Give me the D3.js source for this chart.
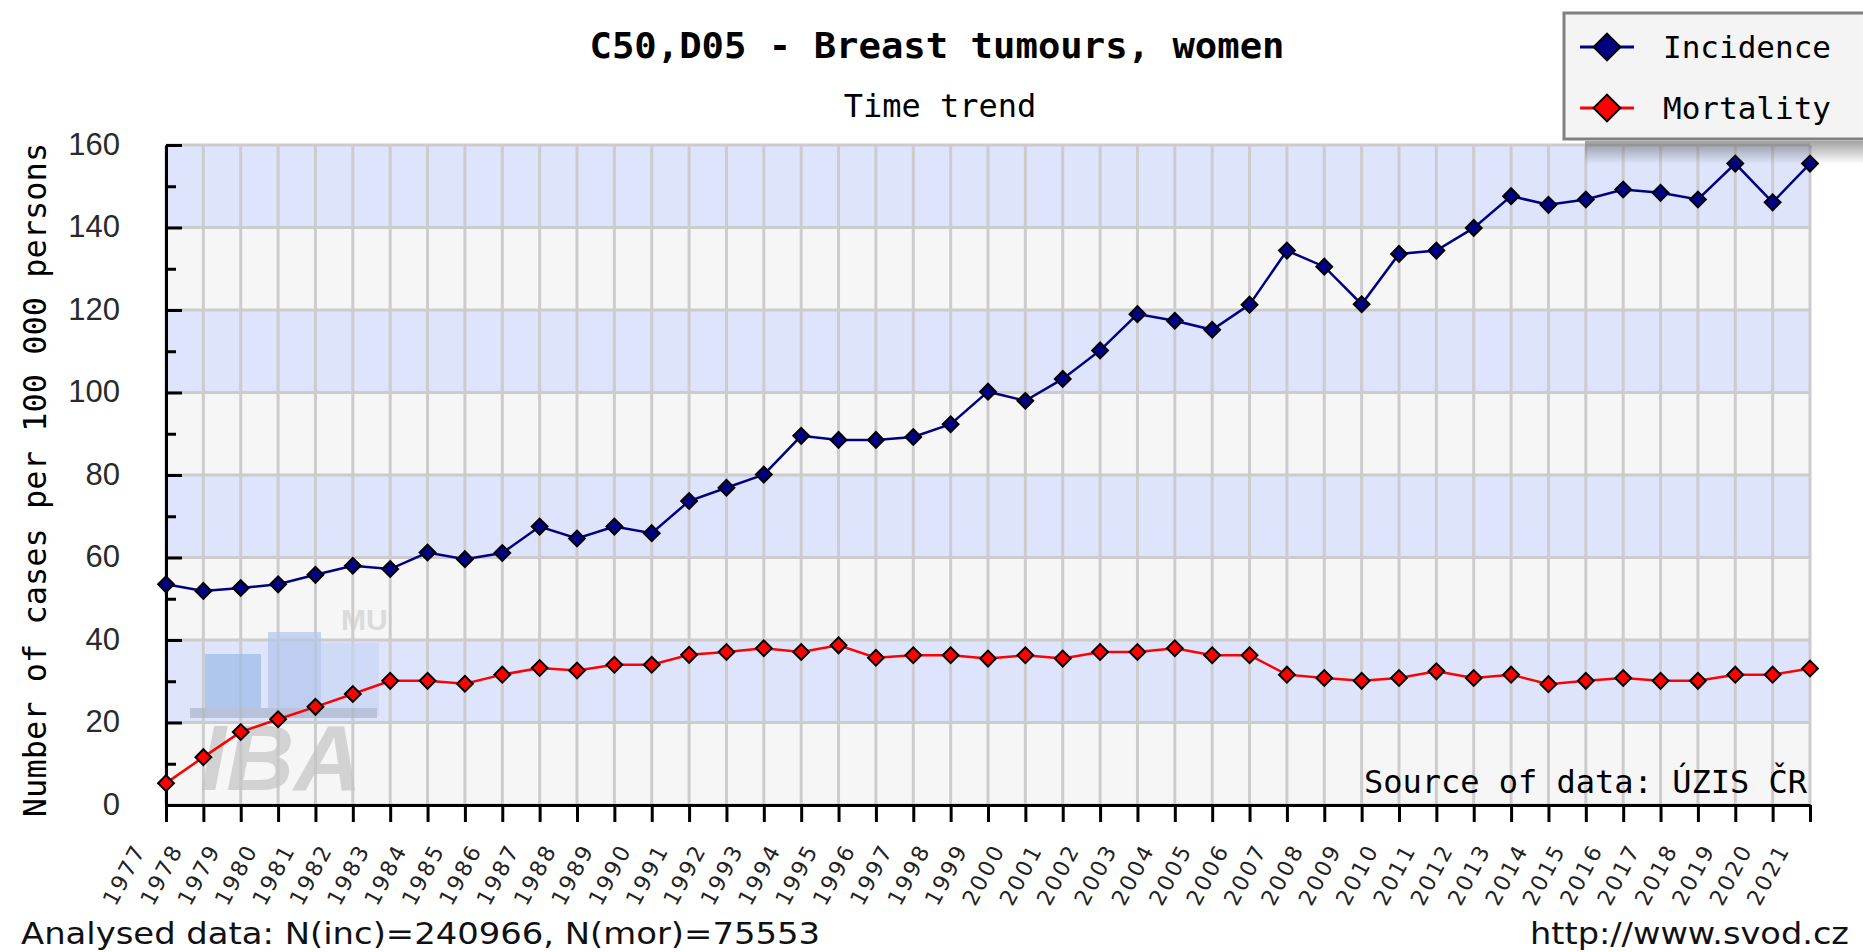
<!DOCTYPE html>
<html>
<head>
<meta charset="utf-8">
<script src="https://cdn.jsdelivr.net/npm/d3@7"></script>
<style>
  body { margin: 0; background: #fff; }
  svg { display: block; }
</style>
</head>
<body>
<div id="chart"></div>
<script>
// chart size and plot margins
var width = 1863,
    height = 952,
    margin = {top: 145, right: 53, bottom: 147, left: 166};

// data
var years = ["1977","1978","1979","1980","1981","1982","1983","1984","1985","1986",
             "1987","1988","1989","1990","1991","1992","1993","1994","1995","1996",
             "1997","1998","1999","2000","2001","2002","2003","2004","2005","2006",
             "2007","2008","2009","2010","2011","2012","2013","2014","2015","2016",
             "2017","2018","2019","2020","2021"];

var incidence = [53.5, 51.9, 52.6, 53.5, 55.8, 58.0, 57.2, 61.2, 59.6, 61.1,
                 67.5, 64.6, 67.5, 65.9, 73.7, 76.9, 80.1, 89.5, 88.5, 88.5,
                 89.2, 92.3, 100.2, 98.0, 103.3, 110.2, 119.0, 117.4, 115.2, 121.3,
                 134.4, 130.5, 121.4, 133.6, 134.4, 139.9, 147.6, 145.5, 146.8, 149.2,
                 148.4, 146.8, 155.5, 146.1, 155.5];

var mortality = [5.3, 11.6, 17.7, 20.8, 23.8, 26.9, 30.1, 30.1, 29.4, 31.6,
                 33.2, 32.6, 34.0, 34.0, 36.4, 37.1, 38.0, 37.1, 38.7, 35.7,
                 36.3, 36.3, 35.5, 36.3, 35.5, 37.1, 37.1, 38.0, 36.3, 36.3,
                 31.6, 30.8, 30.1, 30.8, 32.4, 30.8, 31.6, 29.3, 30.1, 30.8,
                 30.1, 30.1, 31.6, 31.6, 33.1];

var yTicks = [0, 20, 40, 60, 80, 100, 120, 140, 160];
var yMinor = [10, 30, 50, 70, 90, 110, 130, 150];

var series = [
  {name: "Incidence", values: incidence, color: "#000080"},
  {name: "Mortality", values: mortality, color: "#ff0000"}
];

var mono = "'DejaVu Sans Mono', monospace";

var svg = d3.select("#chart").append("svg")
  .attr("width", width)
  .attr("height", height);

var x = d3.scalePoint()
  .domain(years)
  .range([margin.left, width - margin.right]);

var y = d3.scaleLinear()
  .domain([0, 160])
  .range([height - margin.bottom, margin.top]);

// alternating bands, 20 units each
svg.append("g").selectAll("rect")
  .data(yTicks.slice(0, -1))
  .enter().append("rect")
  .attr("x", margin.left)
  .attr("y", function(d) { return y(d + 20); })
  .attr("width", x.range()[1] - margin.left)
  .attr("height", function(d) { return y(d) - y(d + 20); })
  .style("fill", function(d, i) { return i % 2 ? "#dde4fc" : "#f6f6f6"; });

// grid
var grid = svg.append("g").style("stroke", "#cccccc").style("stroke-width", 3);
grid.selectAll(".vx").data(years).enter().append("line")
  .attr("x1", function(d) { return x(d); })
  .attr("x2", function(d) { return x(d); })
  .attr("y1", y(0)).attr("y2", y(160));
grid.selectAll(".hy").data(yTicks).enter().append("line")
  .attr("x1", margin.left).attr("x2", x.range()[1])
  .attr("y1", function(d) { return y(d); })
  .attr("y2", function(d) { return y(d); });

// IBA / MU watermark
var wm = svg.append("g").attr("opacity", 0.7);
wm.append("rect").attr("x", 205).attr("y", 654).attr("width", 56).attr("height", 62).style("fill", "#9dbbe8");
wm.append("rect").attr("x", 268).attr("y", 632).attr("width", 53).attr("height", 84).style("fill", "#b3c6ec");
wm.append("rect").attr("x", 321).attr("y", 643).attr("width", 58).attr("height", 73).style("fill", "#c8d6f4");
wm.append("rect").attr("x", 190).attr("y", 708).attr("width", 187).attr("height", 10).style("fill", "#a9b5cb");
wm.append("text").attr("x", 341).attr("y", 630).text("MU")
  .style("font-family", "'Liberation Sans', Arial, sans-serif").style("font-weight", "bold")
  .style("font-size", "30px").style("fill", "#d0d0d0");
wm.append("text").attr("x", 200).attr("y", 790).text("IBA")
  .attr("textLength", 162).attr("lengthAdjust", "spacingAndGlyphs")
  .style("font-family", "'Liberation Sans', Arial, sans-serif").style("font-weight", "bold")
  .style("font-style", "italic").style("font-size", "92px").style("fill", "#c4c4c4");

// y axis, ticks point into the plot
var yAxis = svg.append("g")
  .attr("transform", "translate(" + margin.left + ",0)")
  .call(d3.axisLeft(y).tickValues(yTicks).tickSizeInner(-16).tickSizeOuter(0).tickPadding(46));
yAxis.select(".domain").style("stroke", "#000").style("stroke-width", 3);
yAxis.selectAll(".tick line").style("stroke", "#000").style("stroke-width", 3);
yAxis.selectAll(".tick text")
  .attr("dy", "0.30em")
  .style("font-family", "'Liberation Sans', Arial, sans-serif")
  .style("font-size", "31px")
  .style("fill", "#2a2a2a");

svg.append("g")
  .attr("transform", "translate(" + margin.left + ",0)")
  .call(d3.axisLeft(y).tickValues(yMinor).tickSizeInner(-10).tickSizeOuter(0).tickFormat(""))
  .call(function(g) { g.select(".domain").remove(); })
  .selectAll(".tick line").style("stroke", "#000").style("stroke-width", 3);

// x axis
var xAxis = svg.append("g")
  .attr("transform", "translate(0," + y(0) + ")")
  .call(d3.axisBottom(x).tickSizeInner(17).tickSizeOuter(0));
xAxis.select(".domain").style("stroke", "#000").style("stroke-width", 3);
xAxis.selectAll(".tick line").style("stroke", "#000").style("stroke-width", 3);
xAxis.selectAll(".tick text")
  .attr("x", 0).attr("y", 0).attr("dy", 0)
  .attr("transform", "translate(-20,44) rotate(-62)")
  .style("text-anchor", "end")
  .style("letter-spacing", "2.5px")
  .style("font-family", "'DejaVu Sans', Verdana, sans-serif")
  .style("font-size", "22px")
  .style("fill", "#222");

// lines and diamond markers
var line = d3.line()
  .x(function(d, i) { return x(years[i]); })
  .y(function(d) { return y(d); });

var diamond = d3.symbol().type(d3.symbolSquare).size(125);

series.forEach(function(s) {
  svg.append("path")
    .datum(s.values)
    .attr("d", line)
    .style("fill", "none")
    .style("stroke", s.color)
    .style("stroke-width", 2.5);

  svg.append("g").selectAll("path")
    .data(s.values)
    .enter().append("path")
    .attr("d", diamond)
    .attr("transform", function(d, i) {
      return "translate(" + x(years[i]) + "," + y(d) + ") rotate(45)";
    })
    .style("fill", s.color)
    .style("stroke", "#000")
    .style("stroke-width", 2);
});

// source note inside the plot
svg.append("text")
  .attr("x", 1807).attr("y", 793)
  .attr("text-anchor", "end")
  .text("Source of data: ÚZIS ČR")
  .style("font-family", mono).style("font-size", "32px").style("fill", "#000");

// titles
svg.append("text")
  .attr("x", 937).attr("y", 58)
  .attr("text-anchor", "middle")
  .attr("textLength", 695).attr("lengthAdjust", "spacingAndGlyphs")
  .text("C50,D05 - Breast tumours, women")
  .style("font-family", mono).style("font-weight", "bold").style("font-size", "35px");

svg.append("text")
  .attr("x", 940).attr("y", 117)
  .attr("text-anchor", "middle")
  .text("Time trend")
  .style("font-family", mono).style("font-size", "32px");

svg.append("text")
  .attr("transform", "translate(46,480) rotate(-90)")
  .attr("text-anchor", "middle")
  .text("Number of cases per 100 000 persons")
  .style("font-family", mono).style("font-size", "32px");

// footer
svg.append("text")
  .attr("x", 21).attr("y", 944)
  .attr("textLength", 799).attr("lengthAdjust", "spacingAndGlyphs")
  .text("Analysed data: N(inc)=240966, N(mor)=75553")
  .style("font-family", "'DejaVu Sans', Verdana, sans-serif").style("font-size", "30px").style("fill", "#111");

svg.append("text")
  .attr("x", 1849).attr("y", 944)
  .attr("text-anchor", "end")
  .attr("textLength", 319).attr("lengthAdjust", "spacingAndGlyphs")
  .text("http://www.svod.cz")
  .style("font-family", "'DejaVu Sans', Verdana, sans-serif").style("font-size", "30px").style("fill", "#111");

// legend with drop shadow
var defs = svg.append("defs");
var grad = defs.append("linearGradient").attr("id", "shadow").attr("x1", 0).attr("x2", 0).attr("y1", 0).attr("y2", 1);
grad.append("stop").attr("offset", "0%").attr("stop-color", "#555").attr("stop-opacity", 0.55);
grad.append("stop").attr("offset", "100%").attr("stop-color", "#555").attr("stop-opacity", 0);

svg.append("rect")
  .attr("x", 1585).attr("y", 141).attr("width", width - 1585).attr("height", 23)
  .style("fill", "url(#shadow)");

var legend = svg.append("g");
legend.append("rect")
  .attr("x", 1564).attr("y", 13).attr("width", 310).attr("height", 126)
  .style("fill", "#f4f4f4").style("stroke", "#808080").style("stroke-width", 3);

var legendItem = legend.selectAll(".item")
  .data(series)
  .enter().append("g")
  .attr("transform", function(d, i) { return "translate(0," + (47 + i * 61) + ")"; });

legendItem.append("line")
  .attr("x1", 1580).attr("x2", 1634)
  .style("stroke", function(d) { return d.color; })
  .style("stroke-width", 3);

legendItem.append("path")
  .attr("d", d3.symbol().type(d3.symbolSquare).size(360))
  .attr("transform", "translate(1607,0) rotate(45)")
  .style("fill", function(d) { return d.color; })
  .style("stroke", "#000").style("stroke-width", 2);

legendItem.append("text")
  .attr("x", 1663).attr("y", 11)
  .text(function(d) { return d.name; })
  .style("font-family", mono).style("font-size", "31px");
</script>
</body>
</html>
